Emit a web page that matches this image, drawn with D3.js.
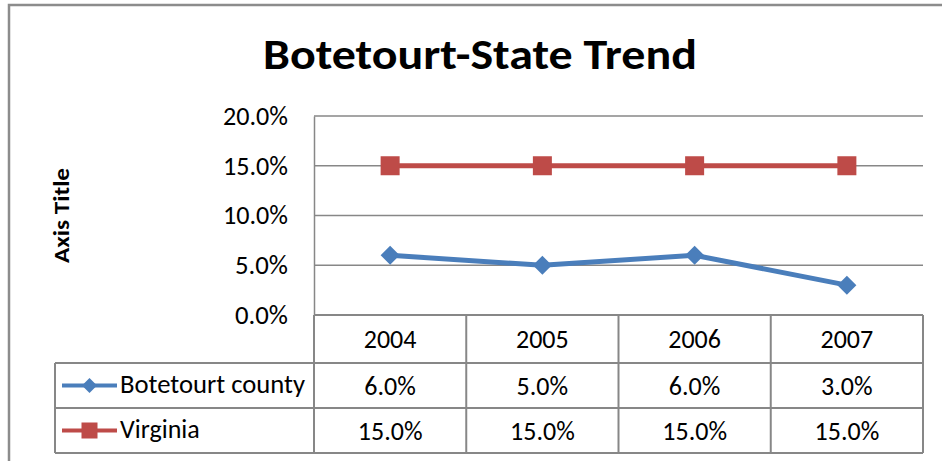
<!DOCTYPE html>
<html><head><meta charset="utf-8">
<script src="https://cdn.jsdelivr.net/npm/d3@7"></script>
<style>
html,body{margin:0;padding:0;background:#fff;}
svg{display:block;font-family:Carlito, Calibri, Lato, "Open Sans", sans-serif;}
</style></head>
<body>
<svg id="chart" width="942" height="461"></svg>
<script>
const title = "Botetourt-State Trend";
const yAxisTitle = "Axis Title";
const categories = ["2004", "2005", "2006", "2007"];
const botetourt = [0.06, 0.05, 0.06, 0.03];
const virginia = [0.15, 0.15, 0.15, 0.15];
const yTicks = [0, 0.05, 0.10, 0.15, 0.20];
const seriesNames = ["Botetourt county", "Virginia"];

const series = [
  {name: seriesNames[0], values: botetourt, color: "#4A7EBB", marker: "diamond"},
  {name: seriesNames[1], values: virginia, color: "#BE4B48", marker: "square"}
];

const svg = d3.select("#chart");
const plot = {left: 314, right: 923, top: 116, bottom: 315};
const tableLeft = 55;
const rowBottoms = [363, 408, 453];
const gridColor = "#878787";
const fmt = d3.format(".1%");
const fs = 26;

// outer chart border
svg.append("path")
  .attr("d", `M9,461 L9,5 L942,5`)
  .attr("fill", "none").attr("stroke", "#8c8c8c").attr("stroke-width", 2.5);

// title
svg.append("text").attr("x", 480).attr("y", 69)
  .attr("text-anchor", "middle").attr("font-weight", "bold").attr("font-size", 43)
  .attr("fill", "#000").attr("textLength", 434).attr("lengthAdjust", "spacingAndGlyphs")
  .text(title);

const x = d3.scaleBand().domain(categories).range([plot.left, plot.right]);
const y = d3.scaleLinear().domain([0, 0.2]).range([plot.bottom, plot.top]);

// gridlines
svg.append("g").selectAll("line").data(yTicks).join("line")
  .attr("x1", plot.left).attr("x2", plot.right)
  .attr("y1", d => y(d)).attr("y2", d => y(d))
  .attr("stroke", gridColor).attr("stroke-width", 1.5);

// y axis
const yAxis = d3.axisLeft(y).tickValues(yTicks).tickFormat(fmt).tickSize(0).tickPadding(26);
const ya = svg.append("g").attr("transform", `translate(${plot.left},0)`).call(yAxis);
ya.attr("font-size", fs).attr("font-family", null);
ya.select(".domain").attr("stroke", gridColor).attr("stroke-width", 1.5);
ya.selectAll("text").attr("fill", "#000").attr("textLength", d => d >= 0.1 ? 65 : 53)
  .attr("lengthAdjust", "spacingAndGlyphs");

// y axis title
svg.append("text").attr("transform", `translate(69,${(plot.top + plot.bottom) / 2}) rotate(-90)`)
  .attr("text-anchor", "middle").attr("font-weight", "bold").attr("font-size", 22)
  .attr("textLength", 95).attr("lengthAdjust", "spacingAndGlyphs")
  .text(yAxisTitle);

// data table grid
const tg = svg.append("g").attr("stroke", gridColor).attr("stroke-width", 2).attr("fill", "none");
const colEdges = categories.map(c => x(c)).concat([plot.right]);
colEdges.forEach(e => {
  tg.append("line").attr("x1", e).attr("x2", e).attr("y1", plot.bottom).attr("y2", rowBottoms[2]);
});
tg.append("line").attr("x1", plot.left).attr("x2", plot.right).attr("y1", plot.bottom).attr("y2", plot.bottom);
rowBottoms.forEach(rb => {
  tg.append("line").attr("x1", tableLeft).attr("x2", plot.right).attr("y1", rb).attr("y2", rb);
});
tg.append("line").attr("x1", tableLeft).attr("x2", tableLeft).attr("y1", rowBottoms[0]).attr("y2", rowBottoms[2]);

// header row
svg.append("g").selectAll("text").data(categories).join("text")
  .attr("x", d => x(d) + x.bandwidth() / 2).attr("y", (plot.bottom + rowBottoms[0]) / 2)
  .attr("dy", "0.35em").attr("text-anchor", "middle").attr("font-size", fs).text(d => d);

function marker(g, type, cx, cy, color, s) {
  if (type === "diamond") {
    g.append("path").attr("d", `M${cx},${cy - s}L${cx + s},${cy}L${cx},${cy + s}L${cx - s},${cy}Z`)
      .attr("fill", color);
  } else {
    g.append("rect").attr("x", cx - s).attr("y", cy - s).attr("width", 2 * s).attr("height", 2 * s)
      .attr("fill", color);
  }
}

// rows
series.forEach((s, i) => {
  const top = rowBottoms[i], bot = rowBottoms[i + 1];
  const cy = (top + bot) / 2;
  const g = svg.append("g");
  g.append("line").attr("x1", 62).attr("x2", 117).attr("y1", cy).attr("y2", cy)
    .attr("stroke", s.color).attr("stroke-width", 4);
  marker(g, s.marker, 89.5, cy, s.color, s.marker === "diamond" ? 7.5 : 8);
  g.append("text").attr("x", 120).attr("y", cy).attr("dy", "0.3em").attr("font-size", fs)
    .attr("textLength", s.name.length > 10 ? 185 : null).attr("lengthAdjust", "spacingAndGlyphs")
    .text(s.name);
  g.selectAll("text.v").data(s.values).join("text").attr("class", "v")
    .attr("x", (d, j) => x(categories[j]) + x.bandwidth() / 2).attr("y", cy).attr("dy", "0.35em")
    .attr("text-anchor", "middle").attr("font-size", fs).text(d => fmt(d));
});

// lines
const line = d3.line().x((d, j) => x(categories[j]) + x.bandwidth() / 2).y(d => y(d));
series.forEach(s => {
  svg.append("path").datum(s.values).attr("d", line).attr("fill", "none")
    .attr("stroke", s.color).attr("stroke-width", 5).attr("stroke-linejoin", "round");
  const g = svg.append("g");
  s.values.forEach((v, j) => {
    marker(g, s.marker, x(categories[j]) + x.bandwidth() / 2, y(v), s.color, 9.5);
  });
});
</script>
</body></html>
